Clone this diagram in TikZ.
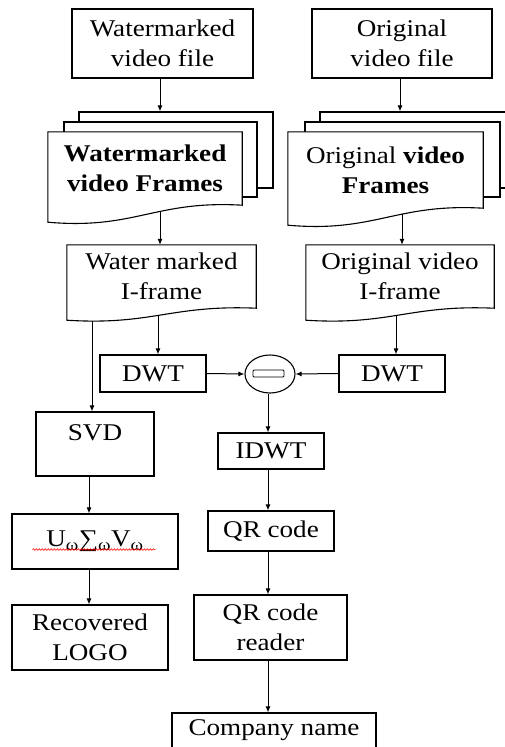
\documentclass[tikz,border=0pt]{standalone}
\usepackage{fontspec}
\setmainfont{Liberation Serif}[FakeStretch=1.13]
\usetikzlibrary{arrows.meta,calc,shapes.geometric,decorations.pathmorphing}
\pgfdeclarelayer{background}
\pgfsetlayers{background,main}
\newcommand\docout[2]{%
  \draw[line width=1.1pt, fill=white] (#1.north west) -- (#1.north east) -- (#1.south east)
    .. controls ($(#1.south west)!0.55!(#1.south east)+(0,-0.3*#2)$)
    and ($(#1.south west)!0.45!(#1.south east)+(0,1.45*#2)$)
    .. ($(#1.south west)+(0,#2)$) -- cycle;}
\begin{document}
\begin{tikzpicture}[x=1pt,y=-1pt,
  every node/.style={font=\fontsize{24}{30}\selectfont},
  box/.style={draw, line width=1.1pt, fill=white, align=center, inner sep=0pt},
  doctext/.style={draw=none, align=center, inner sep=0pt},
  sheet/.style={draw, line width=1.1pt, fill=white, inner sep=0pt},
  arr/.style={-{Latex[length=6pt,width=5pt]}, line width=1pt},
]
\useasboundingbox (0,0) rectangle (504,747);

% top boxes
\node[box, minimum width=181pt, minimum height=69pt] (WV) at (162.5,43.5) {Watermarked\\video file};
\node[box, minimum width=180pt, minimum height=69pt] (OV) at (402,43.5) {Original\\video file};

% frame documents
\node[doctext, minimum width=194pt, minimum height=73pt] (WF) at (145,168.5) {\textbf{Watermarked}\\\textbf{video Frames}};
\node[doctext, minimum width=195pt, minimum height=76pt] (OF) at (385.5,170) {Original \textbf{video}\\\textbf{Frames}};
\node[doctext, minimum width=189pt, minimum height=63pt] (WI) at (161.5,276.5) {Water marked\\I-frame};
\node[doctext, minimum width=188pt, minimum height=63pt] (OI) at (400,276.5) {Original video\\I-frame};

\begin{pgfonlayer}{background}
  \node[sheet, minimum width=194pt, minimum height=76pt] (WFb) at (176,150) {};
  \node[sheet, minimum width=193pt, minimum height=75pt] (WFm) at (160.5,159.5) {};
  \docout{WF}{17}
  \node[sheet, minimum width=195pt, minimum height=76pt] (OFb) at (417.5,150) {};
  \node[sheet, minimum width=195pt, minimum height=75pt] (OFm) at (402.5,159.5) {};
  \docout{OF}{17}
  \docout{WI}{12}
  \docout{OI}{12}
\end{pgfonlayer}

% wave points
\coordinate (WFw) at (160,211.3);
\coordinate (OFw) at (402,213.5);
\coordinate (WIw) at (158,314.5);
\coordinate (WIs) at (92,320.9);
\coordinate (OIw) at (396,314.5);

% DWT and subtraction
\node[box, minimum width=106pt, minimum height=37pt] (D1) at (153,373.5) {DWT};
\node[box, minimum width=106pt, minimum height=37pt] (D2) at (392,373.5) {DWT};
\node[draw, ellipse, line width=1.1pt, minimum width=50pt, minimum height=38pt, inner sep=0pt] (SUB) at (270,374) {};
\node[draw, rounded corners=1pt, line width=0.9pt, minimum width=31pt, minimum height=7pt, inner sep=0pt] (MINUS) at (268.5,373.5) {};

\node[box, minimum width=118pt, minimum height=64pt, text depth=23pt] (SVD) at (95,444) {SVD};
\node[box, minimum width=106pt, minimum height=36pt] (IDWT) at (271,451) {IDWT};
\node[box, minimum width=166pt, minimum height=55pt] (U) at (95,541.5) {U\textsubscript{ω}∑\textsubscript{ω}V\textsubscript{ω}};
\node[box, minimum width=156pt, minimum height=65pt] (LOGO) at (90,637.5) {Recovered\\LOGO};
\node[box, minimum width=126pt, minimum height=40pt] (QR) at (271,531) {QR code};
\node[box, minimum width=153pt, minimum height=65pt] (QRR) at (270.5,627.5) {QR code\\reader};
\node[box, minimum width=204pt, minimum height=48pt, text depth=19pt] (CN) at (274,737) {Company name};

\draw[red, line width=0.6pt, decorate, decoration={snake, amplitude=0.8pt, segment length=3pt}]
  ($(U.south west)+(21,-20)$) -- ($(U.south east)+(-23,-20)$);

% column coordinates
\coordinate (cA) at (160,0);
\coordinate (cB) at (400,0);
\coordinate (cL) at (89,0);
\coordinate (cM) at (268,0);

% connectors
\draw[arr] (WV.south -| cA) -- (WFb.north -| cA);
\draw[arr] (OV.south -| cB) -- (OFb.north -| cB);
\draw[arr] (WFw) -- (WFw |- WI.north);
\draw[arr] (OFw) -- (OFw |- OI.north);
\draw[arr] (WIw) -- (WIw |- D1.north);
\draw[arr] (OIw) -- (OIw |- D2.north);
\draw[arr] (WIs) -- (WIs |- SVD.north);
\draw[arr] (D1.east) -- (SUB.west);
\draw[arr] (D2.west) -- (SUB.east);
\draw[arr] (SUB.south -| cM) -- (IDWT.north -| cM);
\draw[arr] (SVD.south -| cL) -- (U.north -| cL);
\draw[arr] (U.south -| cL) -- (LOGO.north -| cL);
\draw[arr] (IDWT.south -| cM) -- (QR.north -| cM);
\draw[arr] (QR.south -| cM) -- (QRR.north -| cM);
\draw[arr] (QRR.south -| cM) -- (CN.north -| cM);
\end{tikzpicture}
\end{document}
